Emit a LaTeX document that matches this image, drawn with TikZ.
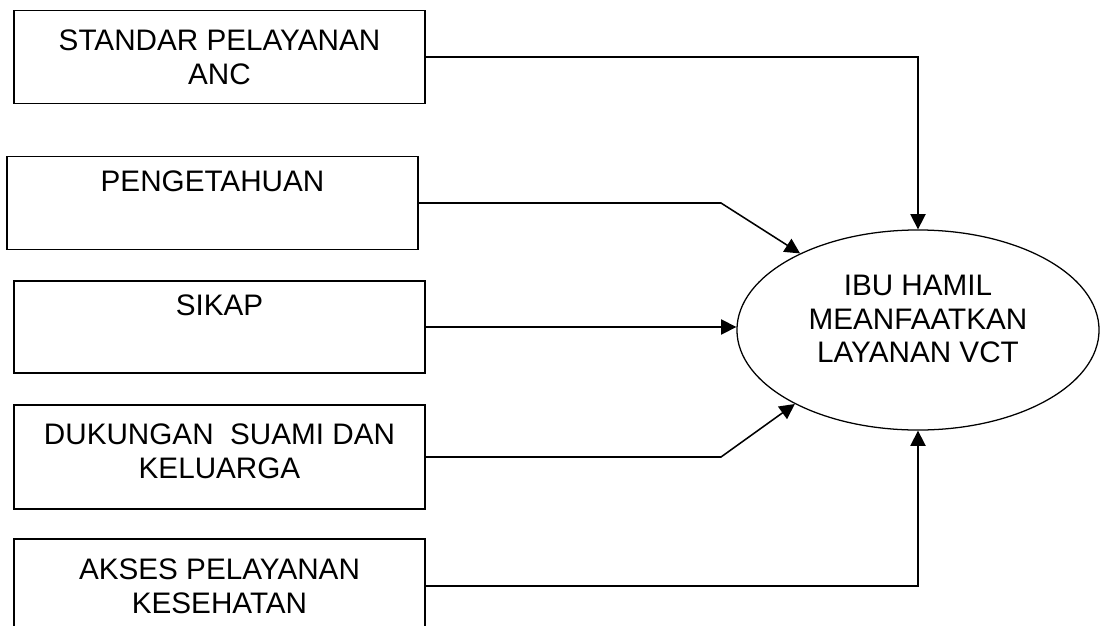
\documentclass[tikz,border=0pt]{standalone}
\usepackage{fontspec}
\setmainfont{Liberation Sans}
\usetikzlibrary{arrows.meta,shapes.geometric}

\begin{document}
\begin{tikzpicture}[x=0.025cm, y=-0.025cm,
	every node/.style={font=\fontsize{21.1}{24}\selectfont, align=center},
	kotak/.style={draw, line width=1.1pt, minimum width=10.275cm, inner sep=0pt},
	tujuan/.style={draw, ellipse, line width=0.9pt, minimum width=9.05cm, minimum height=5cm, inner sep=0pt},
	panah/.style={line width=1.1pt, -{Triangle[length=0.38cm, width=0.38cm]}}]
	\useasboundingbox (0, 0) rectangle (1101, 626);
	\node [kotak, minimum height=2.325cm] (SPA) at (219.5, 57) {STANDAR PELAYANAN\\ANC};
	\node [kotak, minimum height=2.325cm] (PEN) at (212.5, 203) {PENGETAHUAN\\ \strut};
	\node [kotak, minimum height=2.3cm] (SKP) at (219.5, 327) {SIKAP\\ \strut};
	\node [kotak, minimum height=2.6cm, text depth=0.3cm] (DSK) at (219.5, 457) {DUKUNGAN~ SUAMI DAN\\KELUARGA};
	\node [kotak, minimum height=2.35cm] (APK) at (219.5, 586) {AKSES PELAYANAN\\KESEHATAN};
	\node [tujuan, text depth=0.55cm] (IBU) at (918, 330) {IBU HAMIL\\MEANFAATKAN\\LAYANAN VCT};
	\coordinate (K2) at (721, 203);
	\coordinate (K4) at (721, 457);
	\draw [panah] (SPA.east) -| (IBU.north);
	\draw [panah] (PEN.east) -- (K2) -- (IBU.147);
	\draw [panah] (SKP.east) -- (SKP.east -| IBU.west);
	\draw [panah] (DSK.east) -- (K4) -- (IBU.211);
	\draw [panah] (APK.east) -| (IBU.south);
\end{tikzpicture}
\end{document}
